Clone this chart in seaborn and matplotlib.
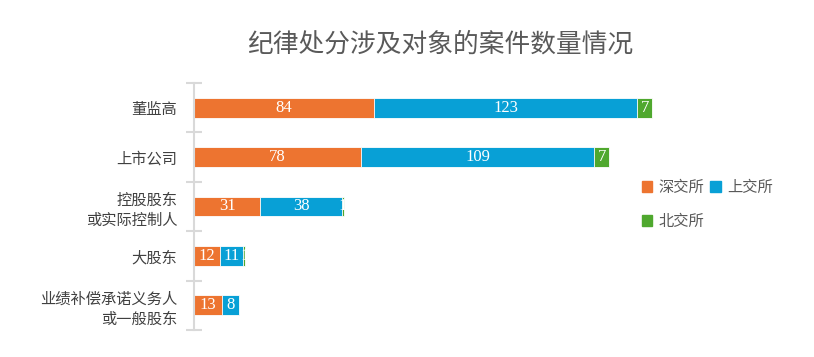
import numpy as np
import pandas as pd
import matplotlib
matplotlib.use('Agg')
import matplotlib.pyplot as plt
from matplotlib.patches import Patch
import seaborn as sns

# data
categories = ['董监高', '上市公司', '控股股东\n或实际控制人', '大股东', '业绩补偿承诺义务人\n或一般股东']
szse = [84, 78, 31, 12, 13]
sse = [123, 109, 38, 11, 8]
bse = [7, 7, 1, 1, 0]
series_names = ['深交所', '上交所', '北交所']
colors = ['#ED7430', '#08A0D6', '#4FA82E']

sns.set_style("white")
plt.rcParams['font.family'] = ['Noto Sans CJK SC', 'DejaVu Sans']

df = pd.DataFrame({'cat': categories, 's1': szse, 's2': sse, 's3': bse})
df['c1'] = df['s1']
df['c2'] = df['s1'] + df['s2']
df['c3'] = df['c2'] + df['s3']

fig = plt.figure(figsize=(8.14, 3.57), dpi=100)
ax = fig.add_axes([194 / 814, 27 / 357, 471 / 814, 247 / 357])

# layered cumulative bars -> stacked look
for col, c in zip(['c3', 'c2', 'c1'], colors[::-1]):
    sns.barplot(data=df, y='cat', x=col, color=c, orient='h', width=0.4,
                saturation=1, edgecolor='white', linewidth=0.6, ax=ax,
                order=categories)

# segment labels
starts = [np.zeros(len(categories)), df['c1'].values, df['c2'].values]
for vals, st in zip([szse, sse, bse], starts):
    for i, (v, s) in enumerate(zip(vals, st)):
        if v > 0:
            ax.text(s + v / 2, i, str(v), ha='center', va='center', color='white',
                    fontsize=12, family=['Liberation Serif', 'DejaVu Serif'])

ax.set_xlim(0, 220)
ax.set_ylim(4.5, -0.5)
ax.set_xlabel('')
ax.set_ylabel('')
ax.set_xticks([])
for sp in ['top', 'right', 'bottom']:
    ax.spines[sp].set_visible(False)
ax.spines['left'].set_color('#d9d9d9')
ax.spines['left'].set_linewidth(1.5)

ax.set_yticks(range(len(categories)))
ax.set_yticklabels(categories, fontsize=11, color='#404040', linespacing=1.25)
ax.set_yticks(np.arange(-0.5, len(categories)), minor=True)
ax.tick_params(axis='y', which='major', left=True, length=0, pad=12)
ax.tick_params(axis='y', which='minor', left=True, length=12, width=1.5,
               direction='inout', color='#d9d9d9')

fig.text(440 / 814, 1 - 45 / 357, '纪律处分涉及对象的案件数量情况', ha='center',
         va='center', fontsize=18.5, color='#595959')

handles = [Patch(color=colors[0]), Patch(color=colors[2]), Patch(color=colors[1])]
labels = [series_names[0], series_names[2], series_names[1]]
fig.legend(handles, labels, loc='upper left', bbox_to_anchor=(628 / 814, 1 - 165 / 357),
           ncol=2, frameon=False, fontsize=11, labelcolor='#595959',
           handlelength=0.7, handleheight=0.7, handletextpad=0.4,
           columnspacing=0.4, labelspacing=1.1)

fig.savefig('out.png', dpi=100)
